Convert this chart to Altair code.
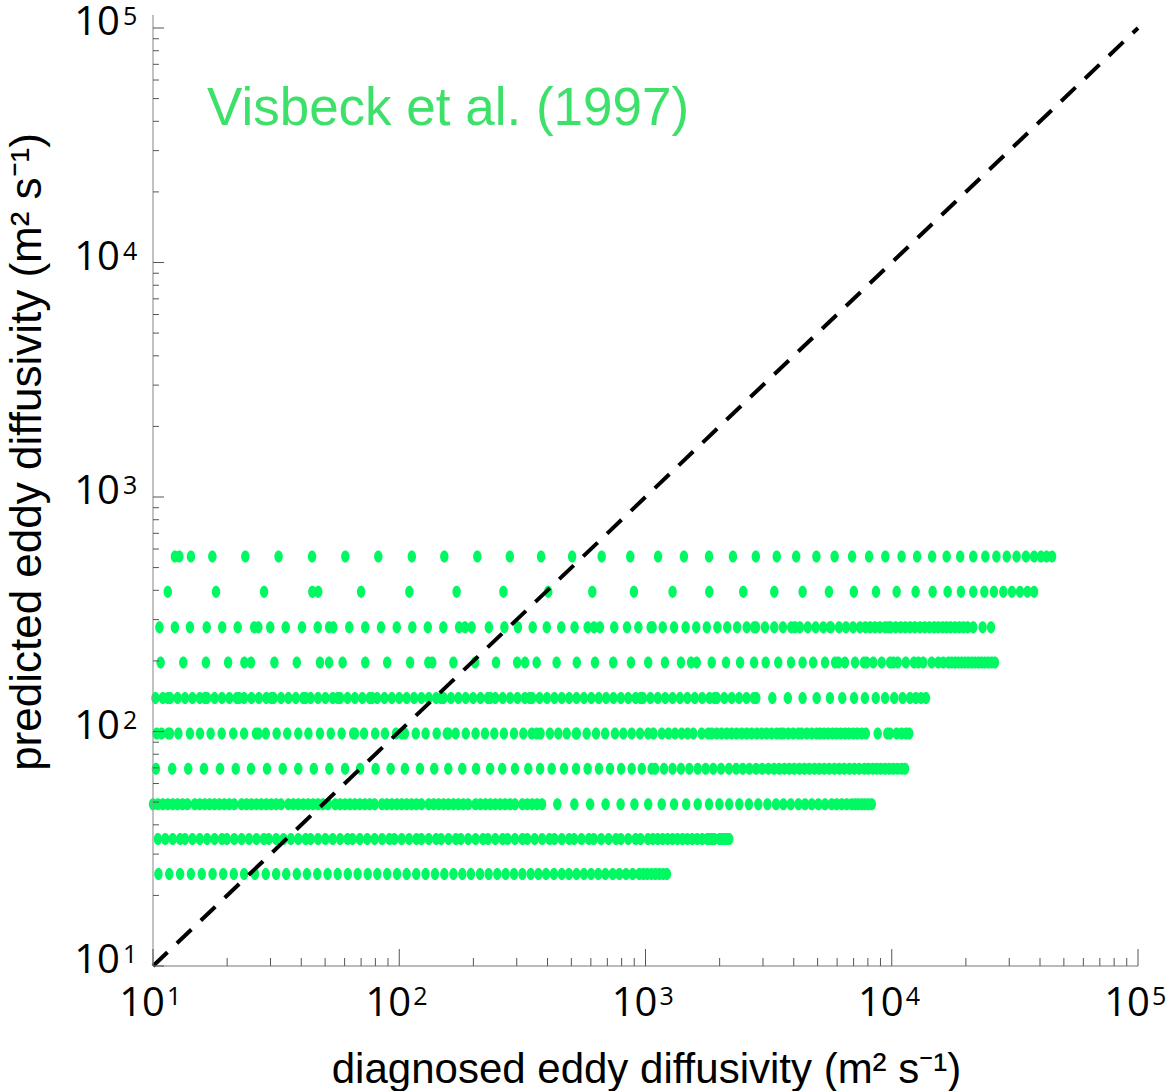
import altair as alt
import pandas as pd

# predicted eddy diffusivity (m^2 s^-1) of each row of points, top to bottom
pred_levels = [557, 394, 278, 197, 139, 98, 69.3, 49, 34.8, 24.7]

# log10 of the diagnosed eddy diffusivity (m^2 s^-1) of the points in each row
diag_log_557 = [1.089, 1.107, 1.154, 1.241, 1.375, 1.510, 1.646, 1.781, 1.915, 2.051, 2.183,
                2.317, 2.449, 2.576, 2.702, 2.822, 2.938, 3.051, 3.156, 3.258, 3.355, 3.448,
                3.533, 3.612, 3.694, 3.768, 3.839, 3.908, 3.974, 4.040, 4.103, 4.164, 4.223,
                4.278, 4.331, 4.380, 4.425, 4.467, 4.507, 4.545, 4.578, 4.606, 4.629, 4.651]
diag_log_394 = [1.060, 1.256, 1.451, 1.647, 1.671, 1.845, 2.041, 2.233, 2.423, 2.605, 2.784,
                2.953, 3.110, 3.259, 3.397, 3.523, 3.638, 3.745, 3.846, 3.936, 4.020, 4.097,
                4.166, 4.227, 4.281, 4.331, 4.376, 4.415, 4.453, 4.488, 4.521, 4.551, 4.578]
diag_log_278 = [1.026, 1.089, 1.150, 1.218, 1.281, 1.344, 1.411, 1.428, 1.476, 1.539, 1.605,
                1.669, 1.715, 1.732, 1.797, 1.862, 1.926, 1.990, 2.053, 2.116, 2.179, 2.243,
                2.267, 2.294, 2.364, 2.427, 2.482, 2.542, 2.599, 2.658, 2.712, 2.765, 2.791,
                2.815, 2.873, 2.925, 2.971, 3.021, 3.029, 3.070, 3.116, 3.163, 3.206, 3.249,
                3.292, 3.332, 3.372, 3.411, 3.441, 3.449, 3.485, 3.523, 3.558, 3.592, 3.607,
                3.627, 3.659, 3.691, 3.722, 3.749, 3.753, 3.786, 3.814, 3.843, 3.871, 3.893,
                3.912, 3.932, 3.952, 3.973, 3.986, 3.996, 4.016, 4.036, 4.055, 4.074, 4.094,
                4.115, 4.134, 4.153, 4.172, 4.189, 4.207, 4.223, 4.239, 4.257, 4.274, 4.291,
                4.308, 4.331, 4.369, 4.403]
diag_log_197 = [1.031, 1.123, 1.215, 1.305, 1.371, 1.398, 1.493, 1.584, 1.678, 1.715, 1.770,
                1.862, 1.951, 2.044, 2.118, 2.134, 2.220, 2.308, 2.393, 2.479, 2.511, 2.558,
                2.639, 2.721, 2.795, 2.869, 2.941, 3.011, 3.079, 3.144, 3.185, 3.208, 3.269,
                3.327, 3.384, 3.441, 3.488, 3.539, 3.591, 3.638, 3.681, 3.729, 3.770, 3.783,
                3.810, 3.851, 3.887, 3.898, 3.925, 3.959, 3.993, 4.006, 4.024, 4.057, 4.090,
                4.108, 4.128, 4.162, 4.189, 4.209, 4.230, 4.243, 4.257, 4.270, 4.284, 4.298,
                4.311, 4.325, 4.338, 4.352, 4.365, 4.379, 4.392, 4.406, 4.419]
diag_log_139 = [1.01, 1.04, 1.06, 1.07, 1.10, 1.13, 1.16, 1.19, 1.21, 1.22, 1.25, 1.28, 1.31,
                1.34, 1.35, 1.37, 1.40, 1.43, 1.46, 1.48, 1.49, 1.52, 1.55, 1.58, 1.61, 1.62,
                1.64, 1.67, 1.70, 1.73, 1.75, 1.76, 1.79, 1.82, 1.85, 1.88, 1.89, 1.91, 1.94,
                1.97, 2.00, 2.03, 2.06, 2.09, 2.12, 2.15, 2.17, 2.18, 2.21, 2.24, 2.27, 2.30,
                2.33, 2.36, 2.37, 2.39, 2.42, 2.45, 2.48, 2.51, 2.53, 2.54, 2.57, 2.60, 2.63,
                2.66, 2.69, 2.72, 2.75, 2.78, 2.81, 2.84, 2.87, 2.90, 2.93, 2.96, 2.98, 2.99,
                3.02, 3.05, 3.08, 3.11, 3.14, 3.17, 3.20, 3.23, 3.26, 3.28, 3.29, 3.32, 3.35,
                3.38, 3.41, 3.44, 3.45,
                3.515, 3.578, 3.638, 3.695, 3.749, 3.799, 3.847, 3.891, 3.935, 3.973, 4.010,
                4.044, 4.074, 4.098, 4.119, 4.139]
diag_log_98 = [1.015, 1.035, 1.062, 1.069, 1.103, 1.150, 1.191, 1.234, 1.279, 1.326, 1.370,
               1.418, 1.428, 1.458, 1.502, 1.545, 1.590, 1.631, 1.678, 1.722, 1.766, 1.813,
               1.820, 1.857, 1.902, 1.942, 1.987, 2.010, 2.023, 2.067, 2.107, 2.152, 2.193,
               2.199, 2.229, 2.270, 2.310, 2.348, 2.386, 2.425, 2.466, 2.504, 2.538, 2.558,
               2.574, 2.612, 2.646, 2.680, 2.717, 2.721, 2.761, 2.799, 2.836, 2.876, 2.910,
               2.944, 2.978, 3.011, 3.032, 3.066, 3.093, 3.120, 3.147, 3.171, 3.194, 3.228,
               3.255, 3.269, 3.289, 3.309, 3.330, 3.350, 3.370, 3.391, 3.411, 3.431, 3.452,
               3.472, 3.492, 3.512, 3.533, 3.549, 3.560, 3.580, 3.600, 3.621, 3.634, 3.655,
               3.675, 3.695, 3.709, 3.725, 3.742, 3.760, 3.776, 3.793, 3.810, 3.826, 3.844,
               3.860, 3.878, 3.895, 3.943, 3.982, 3.993, 4.020, 4.040, 4.058, 4.071]
diag_log_69 = [1.012, 1.078, 1.143, 1.207, 1.272, 1.336, 1.398, 1.463, 1.527, 1.590, 1.653,
               1.716, 1.780, 1.841, 1.904, 1.965, 2.023, 2.084, 2.142, 2.199, 2.256, 2.312,
               2.369, 2.418, 2.470, 2.524, 2.572, 2.619, 2.669, 2.718, 2.765, 2.811, 2.856,
               2.901, 2.944, 2.985, 3.025, 3.039, 3.075, 3.110, 3.144, 3.178, 3.212, 3.244,
               3.275, 3.307, 3.339, 3.368, 3.395, 3.422, 3.449, 3.474, 3.499, 3.522, 3.543,
               3.564, 3.584, 3.604, 3.625, 3.645, 3.665, 3.686, 3.706, 3.726, 3.746, 3.767,
               3.787, 3.807, 3.828, 3.848, 3.868, 3.889, 3.905, 3.923, 3.939, 3.955, 3.973,
               3.990, 4.006, 4.023, 4.040, 4.054]
diag_log_49 = [1.00, 1.02, 1.04, 1.06, 1.08, 1.10, 1.12, 1.14, 1.17, 1.19, 1.21, 1.23, 1.25,
               1.27, 1.29, 1.31, 1.33, 1.36, 1.38, 1.40, 1.42, 1.44, 1.46, 1.48, 1.50, 1.52,
               1.55, 1.57, 1.59, 1.61, 1.63, 1.65, 1.67, 1.69, 1.71, 1.74, 1.76, 1.78, 1.80,
               1.82, 1.84, 1.86, 1.88, 1.90, 1.93, 1.95, 1.97, 1.99, 2.01, 2.03, 2.05, 2.07,
               2.09, 2.12, 2.14, 2.16, 2.18, 2.20, 2.22, 2.24, 2.26, 2.28, 2.31, 2.33, 2.35,
               2.37, 2.39, 2.41, 2.43, 2.45, 2.47, 2.50, 2.52, 2.54, 2.56, 2.58,
               2.642, 2.711, 2.775, 2.838, 2.899, 2.955, 3.011, 3.066, 3.116, 3.165, 3.212,
               3.258, 3.300, 3.340, 3.381, 3.420, 3.458, 3.495, 3.530, 3.560, 3.590, 3.621,
               3.648, 3.675, 3.702, 3.729, 3.756, 3.776, 3.797, 3.817, 3.837, 3.851, 3.864,
               3.878, 3.891, 3.905, 3.919]
diag_log_35 = [1.02, 1.05, 1.08, 1.11, 1.13, 1.16, 1.19, 1.22, 1.25, 1.28, 1.30, 1.33, 1.36,
               1.39, 1.42, 1.45, 1.47, 1.50, 1.53, 1.56, 1.59, 1.62, 1.64, 1.67, 1.70, 1.73,
               1.76, 1.79, 1.81, 1.84, 1.87, 1.90, 1.93, 1.96, 1.98, 2.01, 2.04, 2.07, 2.09,
               2.12, 2.15, 2.17, 2.20, 2.23, 2.25, 2.28, 2.31, 2.34, 2.36, 2.39, 2.42, 2.44,
               2.47, 2.50, 2.52, 2.55, 2.58, 2.61, 2.63, 2.66, 2.69, 2.71, 2.74, 2.77, 2.79,
               2.82, 2.85, 2.88, 2.90, 2.93, 2.96, 2.98, 3.01, 3.03, 3.05, 3.07, 3.09, 3.11,
               3.13, 3.15, 3.17, 3.19, 3.21, 3.23, 3.25, 3.26, 3.27, 3.28, 3.30, 3.31, 3.32,
               3.33, 3.34]
diag_log_25 = [1.022, 1.066, 1.110, 1.154, 1.198, 1.242, 1.285, 1.328, 1.370, 1.414, 1.458,
               1.500, 1.541, 1.584, 1.625, 1.667, 1.709, 1.750, 1.791, 1.831, 1.872, 1.911,
               1.951, 1.991, 2.030, 2.069, 2.107, 2.145, 2.183, 2.220, 2.256, 2.291, 2.328,
               2.363, 2.398, 2.432, 2.466, 2.500, 2.534, 2.565, 2.596, 2.628, 2.660, 2.689,
               2.720, 2.750, 2.779, 2.808, 2.837, 2.867, 2.894, 2.921, 2.948, 2.975, 2.991,
               3.007, 3.024, 3.040, 3.056, 3.072, 3.087]

rows = [diag_log_557, diag_log_394, diag_log_278, diag_log_197, diag_log_139,
        diag_log_98, diag_log_69, diag_log_49, diag_log_35, diag_log_25]

# 1:1 reference line
one_to_one = [10, 100000]

# axis ticks and labels
major_ticks = [10, 100, 1000, 10000, 100000]
major_exponents = ["1", "2", "3", "4", "5"]
minor_ticks = [20, 30, 40, 50, 60, 70, 80, 90,
               200, 300, 400, 500, 600, 700, 800, 900,
               2000, 3000, 4000, 5000, 6000, 7000, 8000, 9000,
               20000, 30000, 40000, 50000, 60000, 70000, 80000, 90000]

title_text = "Visbeck et al. (1997)"
x_title = "diagnosed eddy diffusivity (m² s⁻¹)"
y_title = "predicted eddy diffusivity (m² s⁻¹)"

# ---------------------------------------------------------------------------
recs = []
for level, logs in zip(pred_levels, rows):
    for v in logs:
        recs.append({"diag": 10 ** v, "pred": level})
pts = pd.DataFrame(recs)

W, H = 985, 938
xs = alt.Scale(type="log", domain=[10, 100000], nice=False)
ys = alt.Scale(type="log", domain=[10, 100000], nice=False)

ELLIPSE = "M0,-1 A0.7,1 0 1,1 0,1 A0.7,1 0 1,1 0,-1 Z"
GREEN = "#00F962"
LABEL_FONT = "Open Sans"
TITLE_FONT = "Liberation Sans"

points = alt.Chart(pts).mark_point(
    filled=True, shape=ELLIPSE, size=145, color=GREEN, opacity=1, strokeWidth=0
).encode(
    x=alt.X("diag:Q", scale=xs, axis=None),
    y=alt.Y("pred:Q", scale=ys, axis=None),
)

line_df = pd.DataFrame({"a": one_to_one, "b": one_to_one})
diag_line = alt.Chart(line_df).mark_line(
    color="black", strokeWidth=4, strokeDash=[20, 13]
).encode(
    x=alt.X("a:Q", scale=xs, axis=None),
    y=alt.Y("b:Q", scale=ys, axis=None),
)

one = pd.DataFrame({"k": [0]})
x_domain = alt.Chart(one).mark_rule(color="#777", strokeWidth=1.2).encode(
    x=alt.value(0), x2=alt.value(W), y=alt.value(H)
)
y_domain = alt.Chart(one).mark_rule(color="#999", strokeWidth=1.2).encode(
    x=alt.value(0), y=alt.value(-13), y2=alt.value(H)
)

maj = pd.DataFrame({"v": major_ticks, "base": ["10"] * 5, "exp": major_exponents})
mino = pd.DataFrame({"v": minor_ticks})

x_major = alt.Chart(maj).mark_rule(color="#555", strokeWidth=1).encode(
    x=alt.X("v:Q", scale=xs, axis=None), y=alt.value(H - 17), y2=alt.value(H)
)
x_minor = alt.Chart(mino).mark_rule(color="#555", strokeWidth=1).encode(
    x=alt.X("v:Q", scale=xs, axis=None), y=alt.value(H - 8), y2=alt.value(H)
)
y_major = alt.Chart(maj).mark_rule(color="#555", strokeWidth=1).encode(
    y=alt.Y("v:Q", scale=ys, axis=None), x=alt.value(0), x2=alt.value(11)
)
y_minor = alt.Chart(mino).mark_rule(color="#555", strokeWidth=1).encode(
    y=alt.Y("v:Q", scale=ys, axis=None), x=alt.value(0), x2=alt.value(6)
)

x_lab = alt.Chart(maj).mark_text(
    font=LABEL_FONT, fontSize=40, align="right", baseline="alphabetic", dx=12, color="black"
).encode(x=alt.X("v:Q", scale=xs, axis=None), y=alt.value(H + 50), text="base:N")
x_exp = alt.Chart(maj).mark_text(
    font=LABEL_FONT, fontSize=25, align="left", baseline="alphabetic", dx=14, color="black"
).encode(x=alt.X("v:Q", scale=xs, axis=None), y=alt.value(H + 39), text="exp:N")
y_lab = alt.Chart(maj).mark_text(
    font=LABEL_FONT, fontSize=40, align="right", baseline="alphabetic", dy=7, color="black"
).encode(y=alt.Y("v:Q", scale=ys, axis=None), x=alt.value(-33), text="base:N")
y_exp = alt.Chart(maj).mark_text(
    font=LABEL_FONT, fontSize=25, align="left", baseline="alphabetic", dy=-3, color="black"
).encode(y=alt.Y("v:Q", scale=ys, axis=None), x=alt.value(-30), text="exp:N")

txt = pd.DataFrame({"t": [title_text], "xt": [x_title], "yt": [y_title]})
title = alt.Chart(txt).mark_text(
    font=TITLE_FONT, fontSize=53, align="left", baseline="alphabetic", color="#3DE16A"
).encode(x=alt.value(54), y=alt.value(97), text="t:N")
xt = alt.Chart(txt).mark_text(
    font=TITLE_FONT, fontSize=42, align="center", baseline="alphabetic", color="black"
).encode(x=alt.value(W / 2 + 1), y=alt.value(H + 117), text="xt:N")
yt = alt.Chart(txt).mark_text(
    font=TITLE_FONT, fontSize=44, align="center", baseline="alphabetic", angle=270, color="black"
).encode(x=alt.value(-112), y=alt.value(424), text="yt:N")

chart = alt.layer(
    points, diag_line, x_domain, y_domain, x_major, x_minor, y_major, y_minor,
    x_lab, x_exp, y_lab, y_exp, title, xt, yt
).properties(
    width=W, height=H,
    autosize=alt.AutoSizeParams(type="none"),
    padding={"left": 153, "top": 28, "right": 35, "bottom": 125},
).configure_view(stroke=None)

chart.save("out.html", embed_options={"renderer": "svg", "actions": False})
